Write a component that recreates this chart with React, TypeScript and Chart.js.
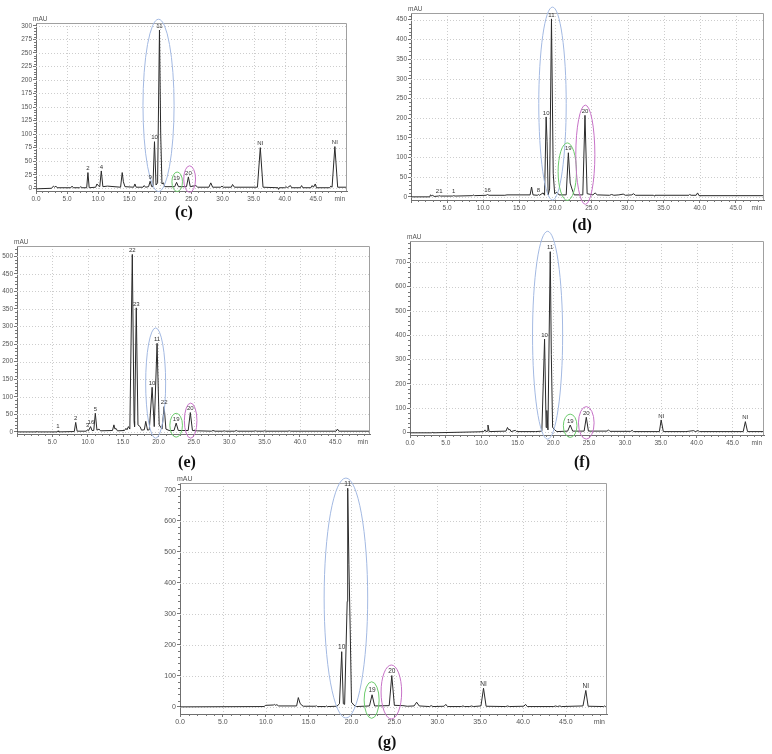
import React, { useEffect, useRef } from "react";
import { Chart, registerables } from "chart.js";
Chart.register(...registerables);

type Pt = [number, number];
type Peak = [string, number, number];
type Ring = [string, number, number, number, number]; // colour key, time, value, half-width (min), half-height (mAU)

// ---------- (c) ----------
const traceC: Pt[] = [
  [0, -1], [2.5, 0], [2.8, 4], [3.0, 2], [3.2, 4], [3.4, 1], [5.6, 1], [5.8, 4], [6.0, 1], [7.0, 1], [7.2, 3], [7.4, 1],
  [8.15, 1], [8.35, 29], [8.55, 1], [9.6, 2], [9.8, 8], [10.0, 5], [10.25, 3], [10.5, 32], [10.75, 3], [11.5, 4], [13.6, 2],
  [13.86, 29], [14.05, 12], [14.3, 3], [15.7, 2], [15.9, 8], [16.1, 2], [17.2, 2], [17.4, 5], [17.6, 2], [18.1, 3],
  [18.35, 13], [18.6, 3], [18.8, 3], [19.05, 86], [19.3, 6], [19.55, 10], [19.85, 292], [20.05, 100], [20.25, 8],
  [20.5, 10], [20.7, 3], [22.3, 3], [22.6, 11], [22.9, 3], [24.2, 3], [24.5, 21], [24.8, 3], [25.7, 5], [26.0, 2],
  [27.8, 2], [28.1, 10], [28.4, 2], [29.7, 2], [29.9, 4], [30.1, 2], [31.4, 2], [31.6, 7], [31.9, 2], [35.6, 2],
  [36.06, 75], [36.5, 2], [38.9, 1], [39.0, -2], [39.1, 1], [40.0, 1], [40.2, 3], [40.4, 1], [40.9, 5], [41.1, 1],
  [42.5, 1], [42.7, 5], [42.9, 1], [44.2, 1], [44.4, 5], [44.6, 2], [44.9, 8], [45.1, 1], [47.2, 1], [47.4, 4], [47.6, 2],
  [48.05, 77], [48.5, 2], [50, 2],
];
const peaksC: Peak[] = [
  ["2", 8.35, 29], ["4", 10.5, 32], ["9", 18.35, 13], ["10", 19.05, 86], ["11", 19.85, 292],
  ["19", 22.6, 11], ["20", 24.5, 21], ["NI", 36.06, 75], ["NI", 48.05, 77],
];
const ringsC: Ring[] = [["blue", 19.7, 153, 2.5, 159], ["green", 22.7, 12, 0.85, 18], ["purple", 24.7, 17, 0.95, 24.5]];
const yTicksC = [0, 25, 50, 75, 100, 125, 150, 175, 200, 225, 250, 275, 300];

// ---------- (d) ----------
const traceD: Pt[] = [
  [0, 0], [2.6, 0], [2.7, 5], [2.9, 2], [3.0, 4], [3.2, 1], [3.8, 2], [3.9, 3], [4.1, 2], [5.8, 2], [5.9, 3], [6.1, 2],
  [8.5, 3], [8.6, 5], [8.8, 3], [10.4, 4], [10.6, 6], [10.8, 4], [13.0, 4], [13.3, 5], [16.5, 5], [16.7, 25], [16.9, 5],
  [17.5, 4], [17.65, 6], [17.8, 4], [18.3, 10], [18.5, 4], [18.72, 203], [18.85, 140], [19.0, 5], [19.2, 20],
  [19.46, 452], [19.7, 60], [19.9, 8], [20.2, 12], [20.5, 5], [21.5, 5], [21.8, 112], [22.05, 35], [22.3, 20], [22.6, 5],
  [23.8, 5], [24.1, 207], [24.4, 8], [25.2, 5], [25.5, 10], [25.8, 5], [27.5, 4], [27.8, 6], [28.1, 4], [28.8, 5],
  [29.4, 7], [29.7, 4], [30.6, 5], [30.8, 8], [31.1, 4], [33.6, 4], [33.7, 2], [33.8, 4], [38.5, 4], [38.6, 6],
  [38.8, 4], [39.5, 4], [39.7, 10], [39.9, 3], [48.9, 3],
];
const peaksD: Peak[] = [
  ["21", 3.9, 3], ["1", 5.9, 3], ["16", 10.6, 6], ["8", 17.65, 6], ["10", 18.72, 203], ["11", 19.46, 452],
  ["19", 21.8, 112], ["20", 24.1, 207],
];
const ringsD: Ring[] = [["blue", 19.6, 237, 1.9, 245], ["green", 21.65, 64, 1.27, 73], ["purple", 24.15, 107, 1.32, 126]];
const yTicksD = [0, 50, 100, 150, 200, 250, 300, 350, 400, 450];

// ---------- (e) ----------
const traceE: Pt[] = [
  [0, 0], [2.7, 0], [2.8, 2], [2.9, 0], [5.7, 0], [5.8, 3], [5.9, 0], [8.1, 1], [8.3, 27], [8.5, 2], [9.8, 2], [9.95, 6],
  [10.1, 3], [10.4, 15], [10.6, 4], [10.85, 4], [11.07, 53], [11.3, 5], [11.6, 8], [11.8, 3], [13.5, 4], [13.7, 20],
  [13.85, 8], [14.0, 10], [14.2, 3], [15.2, 4], [15.4, 10], [15.55, 6], [15.75, 15], [15.95, 8], [16.3, 505],
  [16.55, 30], [16.62, 15], [16.86, 353], [17.1, 20], [17.4, 15], [17.6, 5], [18.0, 6], [18.2, 30], [18.45, 5],
  [18.7, 6], [19.1, 127], [19.4, 15], [19.8, 252], [20.1, 20], [20.5, 8], [20.8, 72], [21.05, 8], [21.5, 4], [22.2, 4],
  [22.5, 25], [22.8, 4], [24.2, 4], [24.5, 55], [24.8, 4], [25.5, 3], [27.5, 2], [27.7, 4], [28.0, 2], [29.1, 2],
  [29.3, 3], [29.5, 2], [30.8, 2], [31.0, 4], [31.2, 2], [33.5, 2], [33.7, 3], [33.9, 2], [34.8, 2], [35.0, 3],
  [35.2, 2], [38.3, 2], [38.5, 3], [38.7, 2], [45.1, 2], [45.3, 8], [45.5, 2], [49.9, 2],
];
const peaksE: Peak[] = [
  ["1", 5.8, 3], ["2", 8.3, 27], ["3", 9.95, 6], ["16", 10.45, 15], ["5", 11.07, 53], ["22", 16.3, 505],
  ["23", 16.86, 353], ["10", 19.1, 127], ["11", 19.8, 252], ["22", 20.8, 72], ["19", 22.5, 25], ["20", 24.5, 55],
];
const ringsE: Ring[] = [["blue", 19.6, 139, 1.41, 157], ["green", 22.5, 19, 0.89, 34], ["purple", 24.55, 32, 0.89, 50]];
const yTicksE = [0, 50, 100, 150, 200, 250, 300, 350, 400, 450, 500];

// ---------- (f) ----------
const traceF: Pt[] = [
  [0, -2], [3.0, -2], [3.1, 0], [3.2, -2], [9.5, 2], [10.3, 3], [10.46, 10], [10.6, 3], [10.75, 5], [10.88, 30],
  [11.05, 3], [13.4, 5], [13.6, 20], [13.8, 10], [13.95, 12], [14.1, 3], [14.7, 8], [14.9, 3], [17.5, 3], [18.4, 5],
  [18.78, 384], [19.0, 20], [19.1, 90], [19.25, 10], [19.57, 744], [19.72, 320], [19.9, 20], [20.2, 10], [20.5, 3],
  [22.0, 5], [22.36, 30], [22.7, 5], [24.3, 5], [24.6, 62], [24.9, 5], [27.5, 5], [27.7, 10], [27.9, 4], [30.8, 4],
  [31.0, 8], [31.2, 3], [34.8, 3], [35.05, 51], [35.35, 3], [38.5, 3], [39.6, 7], [39.8, 3], [40.2, 7], [40.4, 3],
  [46.5, 3], [46.8, 44], [47.1, 3], [49.4, 3],
];
const peaksF: Peak[] = [
  ["10", 18.78, 384], ["11", 19.57, 744], ["19", 22.36, 30], ["20", 24.6, 62], ["NI", 35.05, 51], ["NI", 46.8, 44],
];
const ringsF: Ring[] = [["blue", 19.2, 400, 2.1, 428], ["green", 22.35, 27, 0.95, 48], ["purple", 24.6, 39, 1.09, 67]];
const yTicksF = [0, 100, 200, 300, 400, 500, 600, 700];

// ---------- (g) ----------
const traceG: Pt[] = [
  [0, 0], [9.8, 1], [10.0, 5], [10.9, 6], [11.0, 8], [11.1, 5], [11.3, 7], [11.5, 3], [13.6, 3], [13.8, 30], [14.0, 12],
  [14.2, 5], [14.4, 2], [15.8, 2], [15.9, 4], [16.0, 1], [17.0, 1], [17.1, 3], [17.2, 1], [18.3, 2], [18.6, 10],
  [18.86, 178], [19.05, 10], [19.2, 8], [19.5, 340], [19.56, 705], [19.7, 460], [19.85, 250], [20.0, 15], [20.3, 5],
  [20.6, 1], [22.1, 3], [22.4, 39], [22.7, 3], [24.4, 4], [24.7, 101], [25.0, 5], [26.0, 4], [26.5, 2], [27.3, 3],
  [27.6, 15], [27.9, 3], [29.1, 1], [29.3, 4], [29.5, 1], [30.8, 2], [31.0, 8], [31.2, 1], [32.8, 1], [33.0, 3],
  [33.2, 1], [33.8, 1], [34.0, 3], [34.2, 1], [35.1, 3], [35.4, 60], [35.7, 2], [38.0, 1], [38.2, 3], [38.4, 1],
  [40.1, 2], [40.3, 8], [40.5, 1], [43.6, 1], [43.8, 3], [44.0, 1], [44.3, 3], [44.5, 1], [47.0, 3], [47.33, 53],
  [47.6, 2], [49.4, 1], [49.5, 3], [49.6, 1], [49.8, 1],
];
const peaksG: Peak[] = [
  ["10", 18.86, 178], ["11", 19.56, 705], ["19", 22.4, 39], ["20", 24.7, 101], ["NI", 35.4, 60], ["NI", 47.33, 53],
];
const ringsG: Ring[] = [["blue", 19.35, 351, 2.54, 387], ["green", 22.35, 22, 0.875, 59], ["purple", 24.65, 48, 1.2, 87]];
const yTicksG = [0, 100, 200, 300, 400, 500, 600, 700];

const xTicks = [0, 5, 10, 15, 20, 25, 30, 35, 40, 45];
const captions = ["(c)", "(d)", "(e)", "(f)", "(g)"];

// ---------- layout / style (kept apart from data) ----------
const RING_COLORS: Record<string, string> = { blue: "#a3b9e2", green: "#6ccb6c", purple: "#c772c7" };
const Y_W = 40, PAD_T = 16, PAD_R = 10, X_H = 20;

const PANELS = [
  { trace: traceC, peaks: peaksC, rings: ringsC, yTicks: yTicksC, xMax: 50, yMin: -5, yMax: 305, yMinor: 5, hide0: false,
    area: { l: 36, t: 23, r: 347, b: 191 }, cap: { x: 184, y: 212 }, font: 6.5, label: 6 },
  { trace: traceD, peaks: peaksD, rings: ringsD, yTicks: yTicksD, xMax: 48.9, yMin: -8, yMax: 467, yMinor: 10, hide0: true,
    area: { l: 411, t: 13, r: 764, b: 200 }, cap: { x: 582, y: 225 }, font: 6.5, label: 6 },
  { trace: traceE, peaks: peaksE, rings: ringsE, yTicks: yTicksE, xMax: 49.9, yMin: -6, yMax: 529, yMinor: 10, hide0: true,
    area: { l: 17, t: 246, r: 370, b: 434 }, cap: { x: 187, y: 462 }, font: 6.5, label: 6 },
  { trace: traceF, peaks: peaksF, rings: ringsF, yTicks: yTicksF, xMax: 49.4, yMin: -11, yMax: 788, yMinor: 20, hide0: false,
    area: { l: 410, t: 241, r: 764, b: 435 }, cap: { x: 582, y: 462 }, font: 6.5, label: 6 },
  { trace: traceG, peaks: peaksG, rings: ringsG, yTicks: yTicksG, xMax: 49.8, yMin: -23, yMax: 722, yMinor: 20, hide0: false,
    area: { l: 180, t: 483, r: 607, b: 714 }, cap: { x: 387, y: 742 }, font: 7, label: 6.5 },
];

type PanelDef = (typeof PANELS)[number];

function Panel({ p }: { p: PanelDef }) {
  const ref = useRef<HTMLCanvasElement>(null);
  const w = p.area.r - p.area.l + Y_W + PAD_R;
  const h = p.area.b - p.area.t + PAD_T + X_H;
  useEffect(() => {
    if (!ref.current) return;
    const fontFam = '"Liberation Sans", Arial, sans-serif';
    const decor = {
      id: "decor",
      beforeDatasetsDraw(chart: any) {
        const { ctx, chartArea: a, scales } = chart;
        const x = scales.x, y = scales.y;
        ctx.save();
        ctx.strokeStyle = "#cdcdcd";
        ctx.lineWidth = 1;
        ctx.setLineDash([1, 2]);
        ctx.beginPath();
        for (const v of xTicks) {
          if (v === 0) continue;
          const px = Math.round(x.getPixelForValue(v)) + 0.5;
          ctx.moveTo(px, a.top);
          ctx.lineTo(px, a.bottom);
        }
        for (const v of p.yTicks) {
          const py = Math.round(y.getPixelForValue(v)) + 0.5;
          ctx.moveTo(a.left, py);
          ctx.lineTo(a.right, py);
        }
        ctx.stroke();
        ctx.restore();
      },
      afterDatasetsDraw(chart: any) {
        const { ctx, chartArea: a, scales } = chart;
        const x = scales.x, y = scales.y;
        ctx.save();
        // frame (top / right)
        ctx.strokeStyle = "#a0a0a0";
        ctx.lineWidth = 1;
        ctx.beginPath();
        ctx.moveTo(a.left, a.top + 0.5);
        ctx.lineTo(a.right - 0.5, a.top + 0.5);
        ctx.lineTo(a.right - 0.5, a.bottom);
        ctx.stroke();
        // minor ticks
        ctx.strokeStyle = "#777";
        ctx.beginPath();
        for (let t = 1; t < p.xMax; t += 1) {
          if (t % 5 === 0) continue;
          const px = Math.round(x.getPixelForValue(t)) + 0.5;
          ctx.moveTo(px, a.bottom);
          ctx.lineTo(px, a.bottom + 2);
        }
        for (let v = p.yMinor; v < p.yMax; v += p.yMinor) {
          if (p.yTicks.includes(v)) continue;
          const py = Math.round(y.getPixelForValue(v)) + 0.5;
          ctx.moveTo(a.left - 2, py);
          ctx.lineTo(a.left, py);
        }
        ctx.stroke();
        // ellipses
        ctx.lineWidth = 1;
        for (const [c, t, v, dt, dv] of p.rings) {
          const cx = x.getPixelForValue(t);
          const cy = y.getPixelForValue(v);
          const rx = Math.abs(x.getPixelForValue(t + dt) - cx);
          const ry = Math.abs(y.getPixelForValue(v + dv) - cy);
          ctx.strokeStyle = RING_COLORS[c];
          ctx.beginPath();
          ctx.ellipse(cx, cy, rx, ry, 0, 0, Math.PI * 2);
          ctx.stroke();
        }
        // peak labels
        ctx.fillStyle = "#333";
        ctx.font = `${p.label}px ${fontFam}`;
        ctx.textAlign = "center";
        ctx.textBaseline = "bottom";
        for (const [txt, t, v] of p.peaks) {
          ctx.fillText(txt, x.getPixelForValue(t), y.getPixelForValue(v) - 1);
        }
        // units
        ctx.fillStyle = "#555";
        ctx.font = `${p.font}px ${fontFam}`;
        ctx.textAlign = "left";
        ctx.textBaseline = "bottom";
        ctx.fillText("mAU", a.left - 3, a.top - 0.5);
        ctx.textAlign = "right";
        ctx.textBaseline = "top";
        ctx.fillText("min", a.right - 2, a.bottom + 5);
        ctx.restore();
      },
    };
    const chart = new Chart(ref.current, {
      type: "scatter",
      data: {
        datasets: [
          {
            data: p.trace.map(([t, v]) => ({ x: t, y: v })),
            showLine: true,
            borderColor: "#2a2a2a",
            borderWidth: 1,
            pointRadius: 0,
            tension: 0,
          },
        ],
      },
      options: {
        animation: false,
        responsive: false,
        maintainAspectRatio: false,
        layout: { padding: { left: 0, top: PAD_T, right: PAD_R, bottom: 0 } },
        plugins: { legend: { display: false }, tooltip: { enabled: false } },
        scales: {
          x: {
            type: "linear",
            min: 0,
            max: p.xMax,
            afterBuildTicks: (s: any) => {
              s.ticks = xTicks.map((v) => ({ value: v }));
            },
            afterFit: (s: any) => {
              s.height = X_H;
              s.paddingLeft = 0;
              s.paddingRight = 0;
            },
            ticks: {
              autoSkip: false,
              maxRotation: 0,
              padding: 1,
              color: "#555",
              font: { size: p.font, family: fontFam },
              callback: (v: any) => (p.hide0 && v === 0 ? "" : Number(v).toFixed(1)),
            },
            grid: { drawOnChartArea: false, tickColor: "#777", tickLength: 3, drawTicks: true },
            border: { display: true, color: "#6f6f6f" },
          },
          y: {
            type: "linear",
            min: p.yMin,
            max: p.yMax,
            afterBuildTicks: (s: any) => {
              s.ticks = p.yTicks.map((v) => ({ value: v }));
            },
            afterFit: (s: any) => {
              s.width = Y_W;
              s.paddingTop = 0;
              s.paddingBottom = 0;
            },
            ticks: {
              autoSkip: false,
              padding: 1,
              color: "#555",
              font: { size: p.font, family: fontFam },
              callback: (v: any) => String(v),
            },
            grid: { drawOnChartArea: false, tickColor: "#777", tickLength: 3, drawTicks: true },
            border: { display: true, color: "#6f6f6f" },
          },
        },
      },
      plugins: [decor],
    } as any);
    return () => chart.destroy();
  }, [p]);
  return (
    <canvas
      ref={ref}
      width={w}
      height={h}
      style={{ position: "absolute", left: p.area.l - Y_W, top: p.area.t - PAD_T, width: w, height: h }}
    />
  );
}

export default function App() {
  return (
    <div style={{ position: "absolute", left: 0, top: 0, width: 772, height: 754, background: "#fff", overflow: "hidden" }}>
      {PANELS.map((p, i) => (
        <Panel key={i} p={p} />
      ))}
      {PANELS.map((p, i) => (
        <div
          key={"c" + i}
          style={{
            position: "absolute",
            left: p.cap.x - 30,
            top: p.cap.y - 11,
            width: 60,
            textAlign: "center",
            font: 'bold 16px "Liberation Serif", "DejaVu Serif", serif',
            lineHeight: "22px",
            color: "#111",
          }}
        >
          {captions[i]}
        </div>
      ))}
    </div>
  );
}
